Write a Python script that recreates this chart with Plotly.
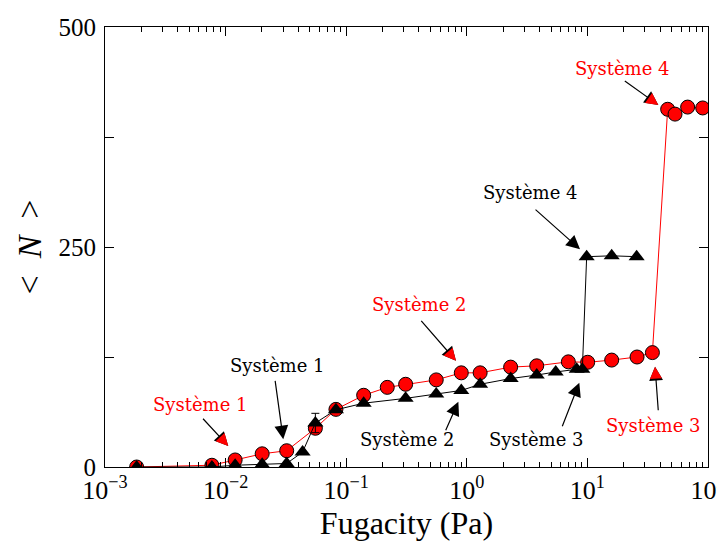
import plotly.graph_objects as go

# red circles
red_x = [1.83e-3, 7.7e-3, 0.0120, 0.0201, 0.0321, 0.0555, 0.0822, 0.1396, 0.219, 0.311,
         0.558, 0.90, 1.29, 2.31, 3.80, 6.95, 10.05, 15.9, 25.8, 34.6,
         46.3, 53.3, 67.8, 90.4]
red_y = [0, 2, 8, 15, 18.5, 44, 65.5, 81.5, 90.5, 94,
         99, 107, 107, 113.5, 115, 119.5, 119, 121.5, 125, 130,
         406.5, 401, 409, 408]

# black triangles
blk_x = [1.83e-3, 7.7e-3, 0.0120, 0.0201, 0.0321, 0.0435, 0.0555, 0.0822, 0.1396, 0.311,
         0.558, 0.90, 1.29, 2.31, 3.80, 5.46, 8.15, 9.08, 9.86, 15.9, 25.6]
blk_y = [0, 0, 2, 3, 4, 17, 50, 65, 72.5, 78,
         83, 87, 94, 100.5, 104.5, 108, 111, 111, 239, 240, 239]
blk_err = [None, None, None, None, None, None, 11, None, None, None,
           None, None, None, None, None, None, None, None, None, None, None]

x_ticks = [1e-3, 1e-2, 1e-1, 1, 10, 100]
x_ticktext = ["10<sup>−3</sup>", "10<sup>−2</sup>", "10<sup>−1</sup>",
              "10<sup>0</sup>", "10<sup>1</sup>", "10<sup>2</sup>"]
y_ticks = [0, 125, 250, 375, 500]
y_ticktext = ["0", "", "250", "", "500"]

# labels: text, colour, text pos (log10 x, y), arrow tip (log10 x, y), arrow tail offset (px)
labels = [
    ("Système 1", "red", (-2.212, 70.5), (-1.978, 23.9), (-26.6, -28.7)),
    ("Système 1", "black", (-1.566, 115.9), (-1.522, 31.4), (-8.3, -60)),
    ("Système 2", "red", (-0.396, 185.2), (-0.090, 120.8), (-36, -41.4)),
    ("Système 2", "black", (-0.488, 30.7), (-0.070, 74.2), (-13.3, 30)),
    ("Système 3", "black", (0.582, 30.7), (0.933, 95.8), (-17.6, 45)),
    ("Système 3", "red", (1.544, 47.7), (1.561, 114.0), (3.3, 45)),
    ("Système 4", "black", (0.532, 312.5), (0.939, 247.4), (-46, -41)),
    ("Système 4", "red", (1.287, 453.4), (1.588, 411.4), (-35, -25)),
]

fig = go.Figure()

fig.add_trace(go.Scatter(
    x=red_x, y=red_y, mode="lines+markers",
    line=dict(color="red", width=1),
    marker=dict(symbol="circle", size=14, color="red", line=dict(color="black", width=1)),
    showlegend=False,
))
fig.add_trace(go.Scatter(
    x=blk_x, y=blk_y, mode="lines+markers",
    line=dict(color="black", width=1),
    marker=dict(symbol="triangle-up", size=14, color="black"),
    error_y=dict(type="data", array=blk_err, color="black", thickness=1, width=4),
    showlegend=False,
))

for text, color, (tx, ty), (px, py), (ax, ay) in labels:
    fig.add_annotation(x=tx, y=ty, text=text, showarrow=False,
                       font=dict(family="DejaVu Serif", size=18, color=color))
    fig.add_annotation(x=px, y=py, text="", showarrow=True, ax=ax, ay=ay,
                       arrowhead=2, arrowsize=2.3, arrowwidth=1.2, arrowcolor="black")
    if color == "red":
        # red arrowhead over the black one
        L = (ax ** 2 + ay ** 2) ** 0.5
        fig.add_annotation(x=px, y=py, text="", showarrow=True,
                           ax=ax / L * 9, ay=ay / L * 9,
                           arrowhead=2, arrowsize=2.4, arrowwidth=1.0, arrowcolor="red")

serif = "Liberation Serif, Times New Roman, serif"
tick_font = dict(family=serif, size=26, color="black")

fig.update_xaxes(
    type="log", range=[-3, 2], tickvals=x_ticks, ticktext=x_ticktext,
    showline=True, linecolor="black", linewidth=1.2, mirror="ticks",
    ticks="inside", ticklen=9, tickcolor="black", tickwidth=1,
    minor=dict(ticks="inside", ticklen=5, tickcolor="black", dtick="D1", showgrid=False),
    showgrid=False, zeroline=False, tickfont=tick_font, automargin=False,
    ticklabeloverflow="allow",
    title=dict(text="Fugacity (Pa)", font=dict(family=serif, size=32, color="black"),
               standoff=0),
)
fig.update_yaxes(
    range=[0, 500], tickvals=y_ticks, ticktext=y_ticktext,
    showline=True, linecolor="black", linewidth=1.2, mirror="ticks",
    ticks="inside", ticklen=9, tickcolor="black", tickwidth=1,
    showgrid=False, zeroline=False, tickfont=dict(family=serif, size=25, color="black"),
    automargin=False, ticklabelstandoff=3,
    title=dict(text="&lt;  <i>N</i>  &gt;", font=dict(family=serif, size=34, color="black"),
               standoff=6),
)

# page body has an 8px margin, so the figure is shrunk by that much
fig.update_layout(
    width=717, height=537,
    margin=dict(l=97, r=17, t=19, b=78),
    paper_bgcolor="white", plot_bgcolor="white",
)

fig.write_html("out.html")
